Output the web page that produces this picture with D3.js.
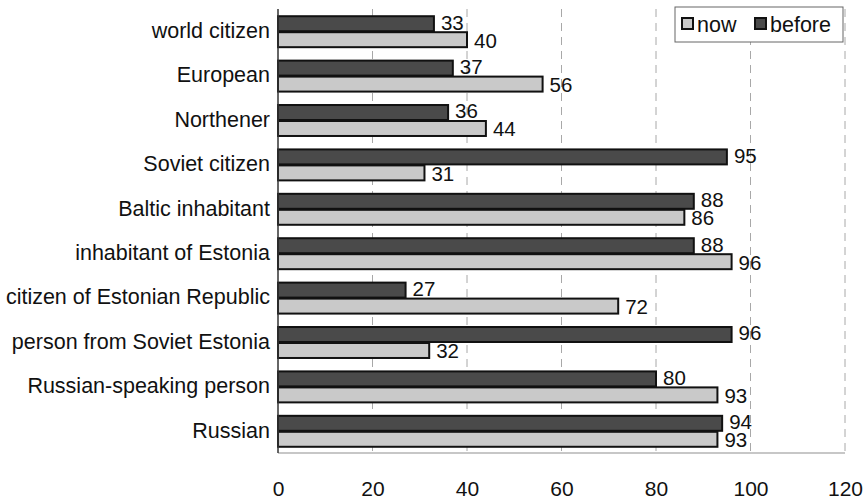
<!DOCTYPE html>
<html>
<head>
<meta charset="utf-8">
<script src="https://cdn.jsdelivr.net/npm/d3@7"></script>
<style>
  html, body { margin: 0; padding: 0; background: #fff; }
  svg { display: block; font-family: "Liberation Sans", Arial, sans-serif; }
</style>
</head>
<body>
<svg id="chart" width="865" height="500"></svg>
<script>
// Self-identification: share of respondents, before and now
const categories = [
  "world citizen", "European", "Northener", "Soviet citizen",
  "Baltic inhabitant", "inhabitant of Estonia", "citizen of Estonian Republic",
  "person from Soviet Estonia", "Russian-speaking person", "Russian"
];
const before = [33, 37, 36, 95, 88, 88, 27, 96, 80, 94];
const now    = [40, 56, 44, 31, 86, 96, 72, 32, 93, 93];
const xTicks = [0, 20, 40, 60, 80, 100, 120];
const seriesNames = ["now", "before"];

const svg = d3.select("#chart");
const plotLeft = 278, plotRight = 845, plotTop = 9, plotBottom = 453;
const fontFamily = "Liberation Sans, Arial, sans-serif";

const x = d3.scaleLinear().domain([0, 120]).range([plotLeft, plotRight]);
const y = d3.scaleBand().domain(categories).range([plotTop, plotBottom])
  .paddingInner(0.28).paddingOuter(0.14);
const sub = d3.scaleBand().domain(["before", "now"]).range([0, y.bandwidth()]);

const colors = { before: "#4a4a4a", now: "#c9c9c9" };

// vertical grid lines
svg.append("g").selectAll("line").data(xTicks.slice(1)).join("line")
  .attr("x1", d => x(d)).attr("x2", d => x(d))
  .attr("y1", plotTop).attr("y2", plotBottom)
  .attr("stroke", "#a8a8a8").attr("stroke-width", 1)
  .attr("stroke-dasharray", "8,6");

// bottom axis line and tick labels
svg.append("line")
  .attr("x1", plotLeft).attr("x2", plotRight).attr("y1", plotBottom).attr("y2", plotBottom)
  .attr("stroke", "#b4b4b4").attr("stroke-width", 1.5);

const xAxis = d3.axisBottom(x).tickValues(xTicks).tickSize(0).tickPadding(0);
const gx = svg.append("g").attr("transform", `translate(0,${plotBottom + 28})`).call(xAxis);
gx.select(".domain").remove();
gx.selectAll("text").attr("font-size", 21).attr("fill", "#111")
  .attr("font-family", fontFamily);

const rows = categories.map((c, i) => ({ c, before: before[i], now: now[i] }));

// bars and value labels
["before", "now"].forEach(key => {
  svg.append("g").selectAll("rect").data(rows).join("rect")
    .attr("x", x(0))
    .attr("y", d => y(d.c) + sub(key) + 1)
    .attr("width", d => x(d[key]) - x(0))
    .attr("height", sub.bandwidth() - 1)
    .attr("fill", colors[key])
    .attr("stroke", "#111").attr("stroke-width", 2);

  svg.append("g").selectAll("text").data(rows).join("text")
    .attr("x", d => x(d[key]) + 7)
    .attr("y", d => y(d.c) + sub(key) + sub.bandwidth() / 2 + (key === "before" ? -1 : 1))
    .attr("dy", "0.36em")
    .attr("font-size", 20.5).attr("fill", "#111")
    .attr("font-family", fontFamily)
    .text(d => d[key]);
});

// y axis line
svg.append("line")
  .attr("x1", plotLeft).attr("x2", plotLeft).attr("y1", plotTop).attr("y2", plotBottom)
  .attr("stroke", "#333").attr("stroke-width", 1.5);

// category labels
const yAxis = d3.axisLeft(y).tickSize(0).tickPadding(8);
const gy = svg.append("g").attr("transform", `translate(${plotLeft},0)`).call(yAxis);
gy.select(".domain").remove();
gy.selectAll("text").attr("font-size", 21.5).attr("fill", "#111")
  .attr("font-family", fontFamily);

// legend
const lg = svg.append("g").attr("transform", "translate(675,7)");
lg.append("rect").attr("width", 168).attr("height", 35)
  .attr("fill", "#fff").attr("stroke", "#666").attr("stroke-width", 1);
const items = [
  { name: seriesNames[0], x: 7, fill: colors.now },
  { name: seriesNames[1], x: 80, fill: colors.before }
];
items.forEach(it => {
  lg.append("rect").attr("x", it.x).attr("y", 11).attr("width", 11).attr("height", 11)
    .attr("fill", it.fill).attr("stroke", "#111").attr("stroke-width", 2);
  lg.append("text").attr("x", it.x + 15).attr("y", 17).attr("dy", "0.36em")
    .attr("font-size", 21.5).attr("fill", "#111")
    .attr("font-family", fontFamily).text(it.name);
});
</script>
</body>
</html>
